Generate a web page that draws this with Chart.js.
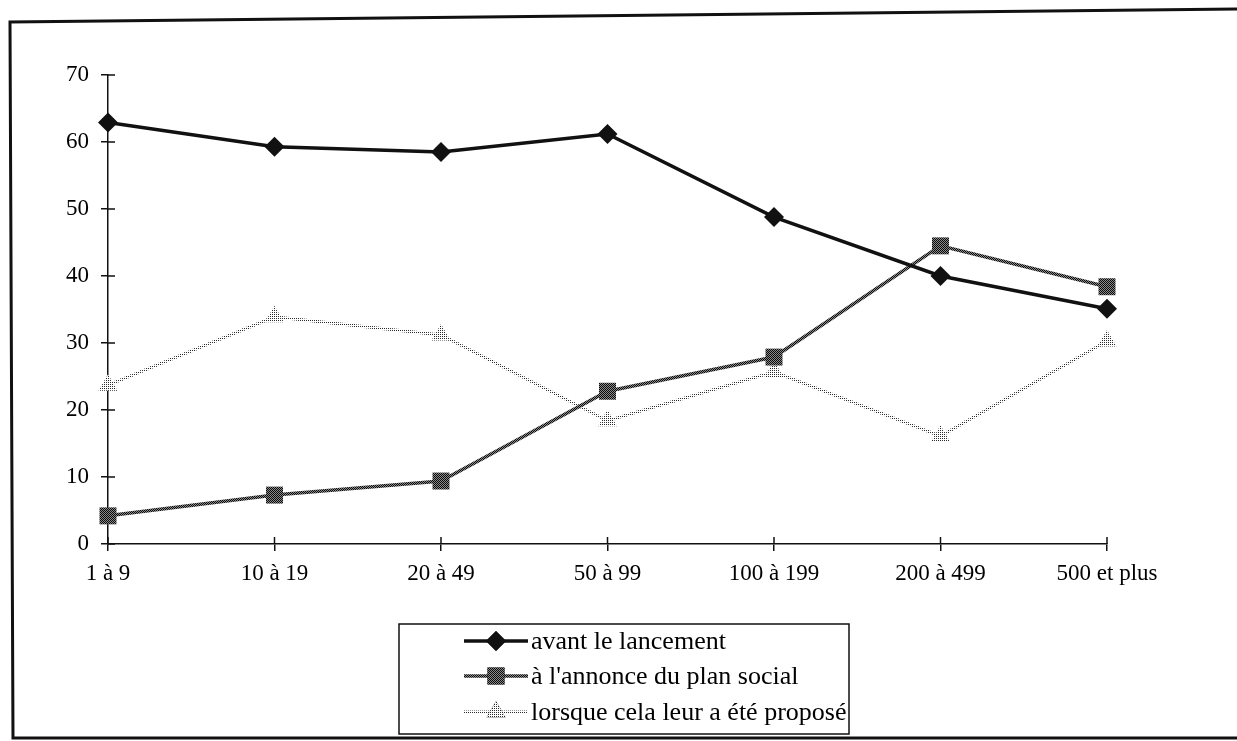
<!DOCTYPE html>
<html lang="fr">
<head>
<meta charset="utf-8">
<title>Taille de l'établissement</title>
<script src="https://cdn.jsdelivr.net/npm/chart.js@4.4.1/dist/chart.umd.min.js"></script>
<style>
  html, body { margin: 0; padding: 0; background: #fff; }
  #wrap { width: 1237px; height: 741px; position: relative; }
</style>
</head>
<body>
<div id="wrap"><canvas id="c" width="1237" height="741"></canvas></div>
<script>
// Tranches de taille d'établissement
const categories = ['1 à 9', '10 à 19', '20 à 49', '50 à 99', '100 à 199', '200 à 499', '500 et plus'];

// Pourcentages par moment de l'information
const avantLancement = [62.9, 59.3, 58.5, 61.2, 48.8, 40.0, 35.1];
const annoncePlan    = [4.2, 7.3, 9.4, 22.8, 27.9, 44.5, 38.4];
const lorsquePropose = [23.7, 33.9, 31.2, 18.4, 25.7, 16.1, 30.3];

const seriesLabels = ['avant le lancement', "à l'annonce du plan social", 'lorsque cela leur a été proposé'];

const yTicks = [0, 10, 20, 30, 40, 50, 60, 70];

const FONT = '"Liberation Serif", "Times New Roman", serif';

// Halftone-like tiles for the grey series
function makePattern(size, cells, ink, paper) {
  const cv = document.createElement('canvas');
  cv.width = size; cv.height = size;
  const g = cv.getContext('2d');
  g.fillStyle = paper; g.fillRect(0, 0, size, size);
  g.fillStyle = ink;
  cells.forEach(([x, y]) => g.fillRect(x, y, 1, 1));
  return g.createPattern(cv, 'repeat');
}
const ctx = document.getElementById('c').getContext('2d');
const darkTone  = makePattern(2, [[0, 0], [1, 1]], '#0a0a0a', '#8a8a8a');
const lightTone = makePattern(2, [[0, 0]], '#2a2a2a', '#ffffff');

// Outer frame of the figure
const framePlugin = {
  id: 'frame',
  beforeDraw(chart) {
    const c = chart.ctx;
    c.save();
    c.strokeStyle = '#111';
    c.lineWidth = 3;
    c.beginPath();
    c.moveTo(1240, 9);
    c.lineTo(10, 22);
    c.lineTo(13, 738);
    c.lineTo(1240, 738);
    c.stroke();
    c.restore();
  }
};

// Tick marks that cross each axis
const crossTicksPlugin = {
  id: 'crossTicks',
  beforeDatasetsDraw(chart) {
    const c = chart.ctx;
    const xs = chart.scales.x, ys = chart.scales.y;
    c.save();
    c.strokeStyle = '#111';
    c.lineWidth = 1.5;
    c.beginPath();
    ys.ticks.forEach((t, i) => {
      const py = ys.getPixelForTick(i);
      c.moveTo(xs.left, py); c.lineTo(xs.left + 7, py);
    });
    xs.ticks.forEach((t, i) => {
      const px = xs.getPixelForTick(i);
      c.moveTo(px, ys.bottom); c.lineTo(px, ys.bottom - 7);
    });
    c.stroke();
    c.restore();
  }
};

// Boxed legend below the plot
const boxLegendPlugin = {
  id: 'boxLegend',
  afterDraw(chart) {
    const c = chart.ctx;
    const box = { x: 399, y: 624, w: 450, h: 110 };
    const rows = [641, 676, 712];
    c.save();
    c.strokeStyle = '#111';
    c.lineWidth = 1.5;
    c.strokeRect(box.x, box.y, box.w, box.h);
    chart.data.datasets.forEach((ds, i) => {
      const y = rows[i];
      c.save();
      c.strokeStyle = ds.borderColor;
      c.lineWidth = ds.borderWidth;
      c.beginPath();
      c.moveTo(464, y); c.lineTo(528, y);
      c.stroke();
      c.restore();
      Chart.helpers.drawPoint(c, {
        pointStyle: ds.pointStyle,
        radius: ds.pointRadius,
        borderWidth: 0,
        rotation: 0
      }, 496, y);
      c.fillStyle = ds.pointBackgroundColor;
      c.fill();
      c.fillStyle = '#000';
      c.font = '26px ' + FONT;
      c.textBaseline = 'middle';
      c.textAlign = 'left';
      c.fillText(ds.label, 531, y + 1);
    });
    c.restore();
  }
};

new Chart(ctx, {
  type: 'line',
  data: {
    labels: categories,
    datasets: [
      {
        label: seriesLabels[0],
        data: avantLancement,
        borderColor: '#111',
        borderWidth: 3.5,
        pointStyle: 'rectRot',
        pointRadius: 10,
        pointBackgroundColor: '#111',
        pointBorderColor: '#111',
        pointBorderWidth: 0,
        tension: 0
      },
      {
        label: seriesLabels[1],
        data: annoncePlan,
        borderColor: darkTone,
        borderWidth: 3.5,
        pointStyle: 'rect',
        pointRadius: 12,
        pointBackgroundColor: darkTone,
        pointBorderColor: darkTone,
        pointBorderWidth: 0,
        tension: 0
      },
      {
        label: seriesLabels[2],
        data: lorsquePropose,
        borderColor: lightTone,
        borderWidth: 3,
        pointStyle: 'triangle',
        pointRadius: 11,
        pointBackgroundColor: lightTone,
        pointBorderColor: lightTone,
        pointBorderWidth: 0,
        tension: 0
      }
    ]
  },
  options: {
    responsive: false,
    animation: false,
    devicePixelRatio: 1,
    layout: { padding: { left: 0, right: 130, top: 75, bottom: 0 } },
    plugins: {
      legend: { display: false },
      tooltip: { enabled: false },
      title: { display: false }
    },
    scales: {
      x: {
        type: 'category',
        offset: false,
        grid: { drawOnChartArea: false, drawTicks: true, tickLength: 7, color: '#111', lineWidth: 1.5 },
        border: { color: '#111', width: 1.5 },
        ticks: { color: '#000', font: { family: FONT, size: 23 }, padding: 9, maxRotation: 0, autoSkip: false },
        afterFit(s) { s.height = 741 - 544; }
      },
      y: {
        min: 0,
        max: 70,
        afterBuildTicks(s) { s.ticks = yTicks.map(v => ({ value: v })); },
        grid: { drawOnChartArea: false, drawTicks: true, tickLength: 7, color: '#111', lineWidth: 1.5 },
        border: { color: '#111', width: 1.5 },
        ticks: { color: '#000', font: { family: FONT, size: 23 }, padding: 12 },
        afterFit(s) { s.width = 108; }
      }
    }
  },
  plugins: [framePlugin, crossTicksPlugin, boxLegendPlugin]
});
</script>
</body>
</html>
